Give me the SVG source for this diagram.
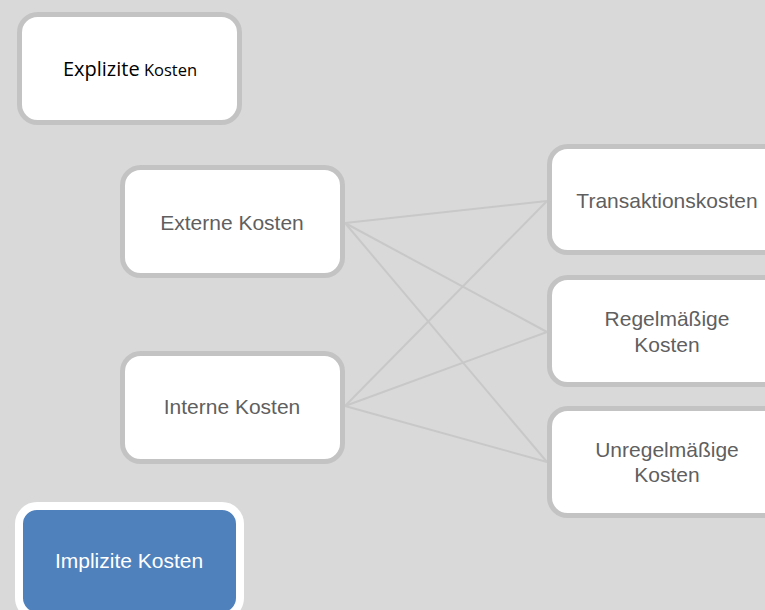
<svg xmlns="http://www.w3.org/2000/svg" width="765" height="610" viewBox="0 0 765 610">
<style>
.box{fill:#ffffff;stroke:#c3c3c3;stroke-width:5}
.lbl{font-family:"Liberation Sans",Arial,sans-serif;font-size:21px;fill:#5f5f5f;text-anchor:middle}
.conn{stroke:#c8c8c8;stroke-width:2;fill:none}
</style>
<rect width="765" height="610" fill="#d9d9d9"/>
<g id="connectors">
<line class="conn" x1="345" y1="223" x2="547" y2="201"/>
<line class="conn" x1="345" y1="223" x2="547" y2="332"/>
<line class="conn" x1="345" y1="223" x2="547" y2="462"/>
<line class="conn" x1="345" y1="406" x2="547" y2="201"/>
<line class="conn" x1="345" y1="406" x2="547" y2="332"/>
<line class="conn" x1="345" y1="406" x2="547" y2="462"/>
</g>
<g id="explizite">
<rect class="box" x="19.5" y="14.5" width="220" height="108" rx="18"/>
<text x="130" y="76" text-anchor="middle" font-family="'Open Sans',sans-serif" fill="#000000"><tspan font-size="20">Explizite</tspan><tspan font-size="16.5"> Kosten</tspan></text>
</g>
<g id="externe">
<rect class="box" x="122.5" y="167.5" width="220" height="108" rx="18"/>
<text class="lbl" x="232" y="230">Externe Kosten</text>
</g>
<g id="interne">
<rect class="box" x="122.5" y="353.5" width="220" height="108" rx="18"/>
<text class="lbl" x="232" y="414">Interne Kosten</text>
</g>
<g id="transaktionskosten">
<rect class="box" x="549.5" y="146.5" width="236" height="106" rx="18"/>
<text class="lbl" x="667" y="208">Transaktionskosten</text>
</g>
<g id="regelmaessige">
<rect class="box" x="549.5" y="277.5" width="236" height="107" rx="18"/>
<text class="lbl" x="667" y="326">Regelmäßige</text>
<text class="lbl" x="667" y="352">Kosten</text>
</g>
<g id="unregelmaessige">
<rect class="box" x="549.5" y="408.5" width="236" height="107" rx="18"/>
<text class="lbl" x="667" y="457">Unregelmäßige</text>
<text class="lbl" x="667" y="482">Kosten</text>
</g>
<g id="implizite">
<rect x="19" y="506" width="221" height="110" rx="18" fill="#4f81bd" stroke="#ffffff" stroke-width="8"/>
<text x="129" y="568" text-anchor="middle" font-family="'Liberation Sans',Arial,sans-serif" font-size="21" fill="#ffffff">Implizite Kosten</text>
</g>
</svg>
